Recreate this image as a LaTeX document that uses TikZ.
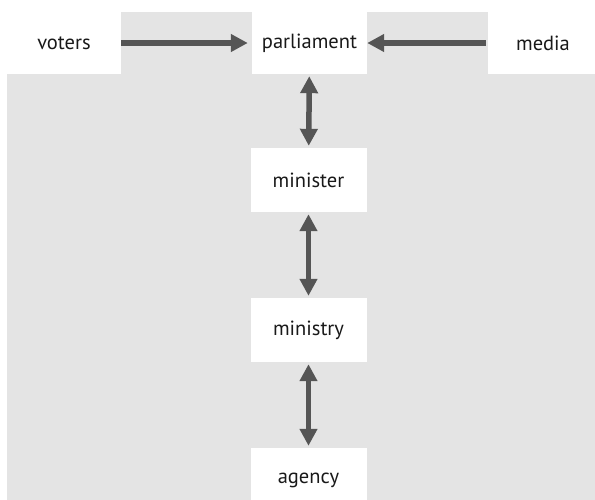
\documentclass[tikz,border=0pt]{standalone}
\usepackage{fontspec}
\setmainfont{PT Sans}
\usetikzlibrary{arrows.meta}
\definecolor{bggray}{HTML}{E4E4E4}
\definecolor{arrowgray}{HTML}{555555}
\begin{document}
\begin{tikzpicture}[x=1pt, y=-1pt,
    box/.style={fill=white, inner sep=0pt, minimum width=116pt, minimum height=62pt, font=\fontsize{20.5}{24}\selectfont, text=black!90},
    link/.style={draw=arrowgray, line width=5.5pt, -{Triangle[length=17pt,width=17pt]}},
    twoway/.style={link, {Triangle[length=17pt,width=17pt]}-{Triangle[length=17pt,width=17pt]}}]
      \useasboundingbox (0,0) rectangle (595,499);
      \clip (0,0) rectangle (595,499);
      \fill[bggray] (7,12) rectangle (600,510);
      \node[box, minimum width=114pt] (voters) at (64,43) {voters};
      \node[box, minimum width=115pt] (parliament) at (309.5,43) {parliament};
      \node[box, minimum width=110pt] (media) at (543,43) {media};
      \node[box, minimum height=64pt] (minister) at (308.5,180) {minister};
      \node[box, minimum height=64pt] (ministry) at (308.5,330) {ministry};
      \node[box, minimum height=64pt] (agency) at (308.5,480) {agency};
      \draw[link, shorten >=4pt] (voters) -- (parliament);
      \draw[link, shorten <=2pt] (media) -- (parliament);
      \draw[twoway, shorten <=2pt, shorten >=2pt] (parliament) -- (minister);
      \draw[twoway, shorten <=2pt, shorten >=2pt] (minister) -- (ministry);
      \draw[twoway, shorten <=2pt, shorten >=2pt] (ministry) -- (agency);
    \end{tikzpicture}
\end{document}
